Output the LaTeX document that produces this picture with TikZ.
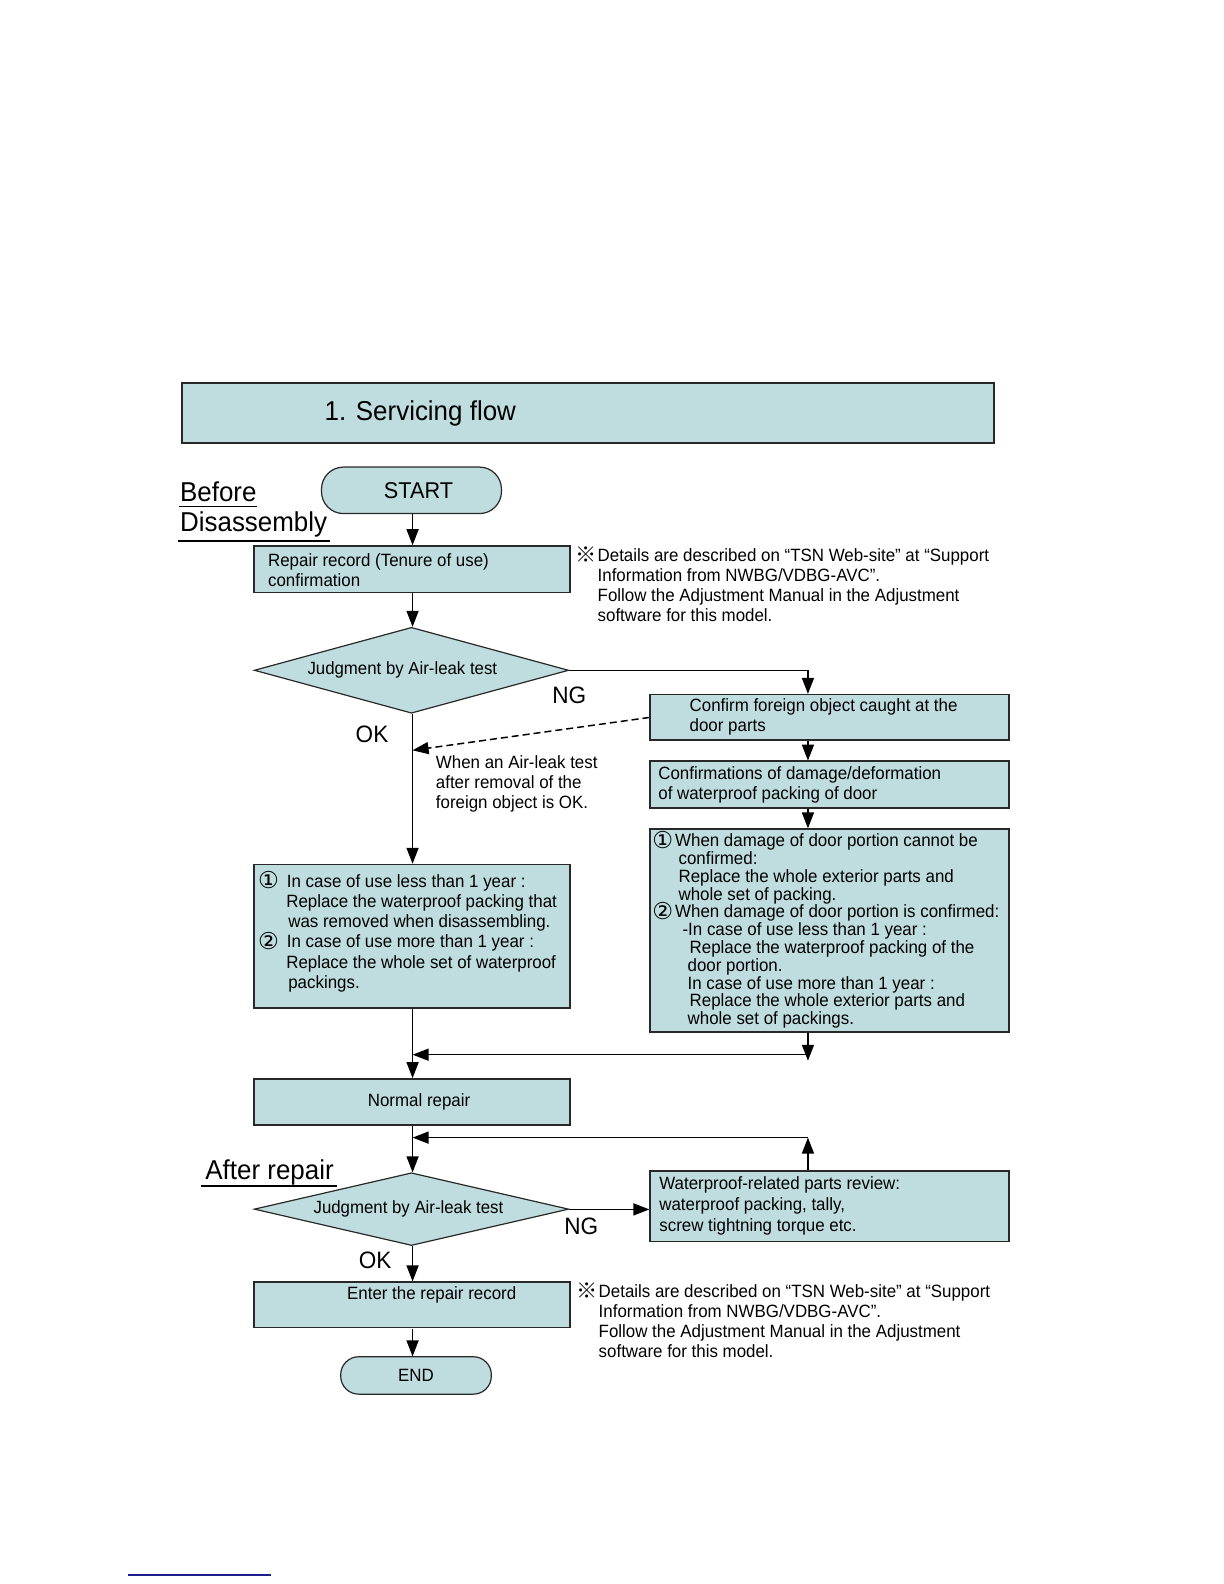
\documentclass[tikz,border=0pt]{standalone}
\usepackage{fontspec}
\setmainfont[FakeStretch=0.95]{Liberation Sans}
\newfontfamily\symfont{DejaVu Sans}
\newfontfamily\cjkfont{Noto Sans CJK JP}
\usetikzlibrary{arrows.meta,shapes.geometric,calc}
\definecolor{boxfill}{RGB}{191,221,223}
\definecolor{edge}{RGB}{40,40,40}
\definecolor{footblue}{RGB}{30,30,140}
\newcommand{\cnum}[1]{\smash{\raisebox{-1.5pt}{\fontsize{23}{23}\symfont #1}}}
\newcommand{\refmark}{{\cjkfont ※}}
\begin{document}
\begin{tikzpicture}[x=1pt,y=-1pt, scale=1.011, transform shape,
  box/.style={draw=edge, line width=1.6pt, fill=boxfill, inner sep=0pt},
  dia/.style={draw=edge, line width=1.2pt, fill=boxfill, diamond, inner sep=0pt, font=\fontsize{17.5}{19.5}\selectfont},
  term/.style={draw=edge, line width=1.2pt, fill=boxfill, rounded corners=22pt, inner sep=0pt},
  txt/.style={inner sep=0pt, align=left, font=\fontsize{17.6}{19.8}\selectfont},
  big/.style={inner sep=0pt, font=\fontsize{27}{30}\selectfont},
  lab/.style={inner sep=0pt, font=\fontsize{23.5}{26}\selectfont},
  arr/.style={line width=1.5pt, -{Triangle[length=16pt,width=12pt]}},
  ln/.style={line width=1.5pt},
]
\useasboundingbox (0,0) rectangle (1210.7,1566.8);
\fill[white] (0,0) rectangle (1210.7,1566.8);

% title
\node[box, minimum width=803pt, minimum height=59pt] (title) at (581.5,408.5) {};
\node[inner sep=0pt, anchor=west, font=\fontsize{27}{32}\selectfont] (titlet) at (321,409) {1. Servicing flow};

% section labels
\node[big, anchor=base west] (before) at (178,496) {Before};
\node[big, anchor=base west] (disas) at (178,526) {Disassembly};
\draw[line width=1.3pt] (177,501) -- (254,501);
\draw[line width=1.3pt] (176,535) -- (326,535);
\node[big, anchor=base west] (after) at (203,1167) {After repair};
\draw[line width=1.3pt] (199,1173) -- (333,1173);

% nodes
\node[term, minimum width=178pt, minimum height=46pt, font=\fontsize{22.6}{24}\selectfont] (start) at (407,485) {\hspace*{14pt}START};
\node[box, minimum width=313pt, minimum height=46pt] (rr) at (407.5,563) {};
\node[txt, anchor=west] (rrt) at (265,563.5) {Repair record (Tenure of use)\\confirmation};

\node[txt, anchor=north west] (note1) at (591,542) {Details are described on “TSN Web-site” at “Support\\Information from NWBG/VDBG-AVC”.\\Follow the Adjustment Manual in the Adjustment\\software for this model.};
\node[inner sep=0pt, font=\fontsize{21}{22}\selectfont] (mark1) at (580,549) {\refmark};

\node[dia, minimum width=311pt, minimum height=85pt, aspect=3.66] (d1) at (407,663) {Judgment by Air-leak test\hspace*{18pt}};

\node[box, minimum width=355pt, minimum height=45pt] (cf) at (820.5,709.5) {};
\node[txt, anchor=west] (cft) at (682,709.5) {Confirm foreign object caught at the\\door parts};

\node[box, minimum width=355pt, minimum height=46pt] (cd) at (820.5,776) {};
\node[txt, anchor=west] (cdt) at (651,776.5) {Confirmations of damage/deformation\\of waterproof packing of door};

\node[box, minimum width=355pt, minimum height=201pt] (rb) at (820.5,920.5) {};
\node[txt, anchor=west, font=\fontsize{17.6}{17.6}\selectfont] (rbt) at (645,921) {\cnum{①}\hspace*{2pt}When damage of door portion cannot be\\
\hspace*{26pt}confirmed:\\
\hspace*{26pt}Replace the whole exterior parts and\\
\hspace*{26pt}whole set of packing.\\
\cnum{②}\hspace*{2pt}When damage of door portion is confirmed:\\
\hspace*{30pt}-In case of use less than 1 year :\\
\hspace*{37pt}Replace the waterproof packing of the\\
\hspace*{35pt}door portion.\\
\hspace*{35pt}In case of use more than 1 year :\\
\hspace*{37pt}Replace the whole exterior parts and\\
\hspace*{35pt}whole set of packings.};

\node[txt, anchor=north west] (dtxt) at (431,747) {When an Air-leak test\\after removal of the\\foreign object is OK.};

\node[box, minimum width=313pt, minimum height=142pt] (lb) at (407.5,926) {};
\node[txt, anchor=west, font=\fontsize{17.6}{20}\selectfont] (lbt) at (255,923) {\cnum{①}\hspace*{8pt}In case of use less than 1 year :\\
\hspace*{28pt}Replace the waterproof packing that\\
\hspace*{30pt}was removed when disassembling.\\
\cnum{②}\hspace*{8pt}In case of use more than 1 year :\\
\hspace*{28pt}Replace the whole set of waterproof\\
\hspace*{30pt}packings.};

\node[box, minimum width=313pt, minimum height=46pt, font=\fontsize{17.6}{19.5}\selectfont] (nr) at (407.5,1090) {\hspace*{14pt}Normal repair};

\node[dia, minimum width=311pt, minimum height=72pt, aspect=4.3] (d2) at (407,1196) {Judgment by Air-leak test\hspace*{6pt}};

\node[box, minimum width=355pt, minimum height=70pt] (wpr) at (820.5,1193) {};
\node[txt, anchor=west, font=\fontsize{17.6}{21}\selectfont] (wprt) at (652,1193) {Waterproof-related parts review:\\waterproof packing, tally,\\screw tightning torque etc.};

\node[box, minimum width=313pt, minimum height=45pt] (er) at (407.5,1290.5) {};
\node[txt] (ert) at (427,1281) {Enter the repair record};

\node[txt, anchor=north west] (note2) at (592,1270) {Details are described on “TSN Web-site” at “Support\\Information from NWBG/VDBG-AVC”.\\Follow the Adjustment Manual in the Adjustment\\software for this model.};
\node[inner sep=0pt, font=\fontsize{21}{22}\selectfont] (mark2) at (581,1277) {\refmark};

\node[term, minimum width=149pt, minimum height=37pt, rounded corners=18pt, font=\fontsize{17.6}{19.5}\selectfont] (end) at (411.5,1360.5) {END};

% branch labels
\node[lab] (ng1) at (563,688) {NG};
\node[lab] (ok1) at (368,726) {OK};
\node[lab] (ng2) at (575,1213) {NG};
\node[lab] (ok2) at (371,1247) {OK};

% helper coordinates
\coordinate (rcol) at (799,0);
\coordinate (lcol) at (408,0);
\coordinate (dashend) at (408,742);
\coordinate (m1) at (408,1043);
\coordinate (m2) at (408,1125);

% connectors
\draw[arr] (start.south -| lcol) -- (rr.north -| lcol);
\draw[arr] (rr.south -| lcol) -- (d1.north -| lcol);
\draw[arr] (d1.east) -| (rcol |- cf.north);
\draw[arr, dashed, dash pattern=on 7pt off 4pt] (cf.west) -- (dashend);
\draw[arr] (d1.south -| lcol) -- (lb.north -| lcol);
\draw[arr] (cf.south -| rcol) -- (cd.north -| rcol);
\draw[arr] (cd.south -| rcol) -- (rb.north -| rcol);
\draw[arr] (rb.south -| rcol) -- ($(rcol |- m1)+(0,6)$);
\draw[arr] (rcol |- m1) -- (m1);
\draw[arr] (lb.south -| lcol) -- (nr.north -| lcol);
\draw[arr] (nr.south -| lcol) -- (d2.north -| lcol);
\draw[arr] (wpr.north -| rcol) -- (rcol |- m2);
\draw[arr] (rcol |- m2) -- (m2);
\draw[arr] (d2.east) -- (d2.east -| wpr.west);
\draw[arr] (d2.south -| lcol) -- (er.north -| lcol);
\draw[arr] (er.south -| lcol) -- (end.north -| lcol);

% footnote rule
\draw[footblue, line width=2pt] (127,1558) -- (268,1558);
\end{tikzpicture}
\end{document}
